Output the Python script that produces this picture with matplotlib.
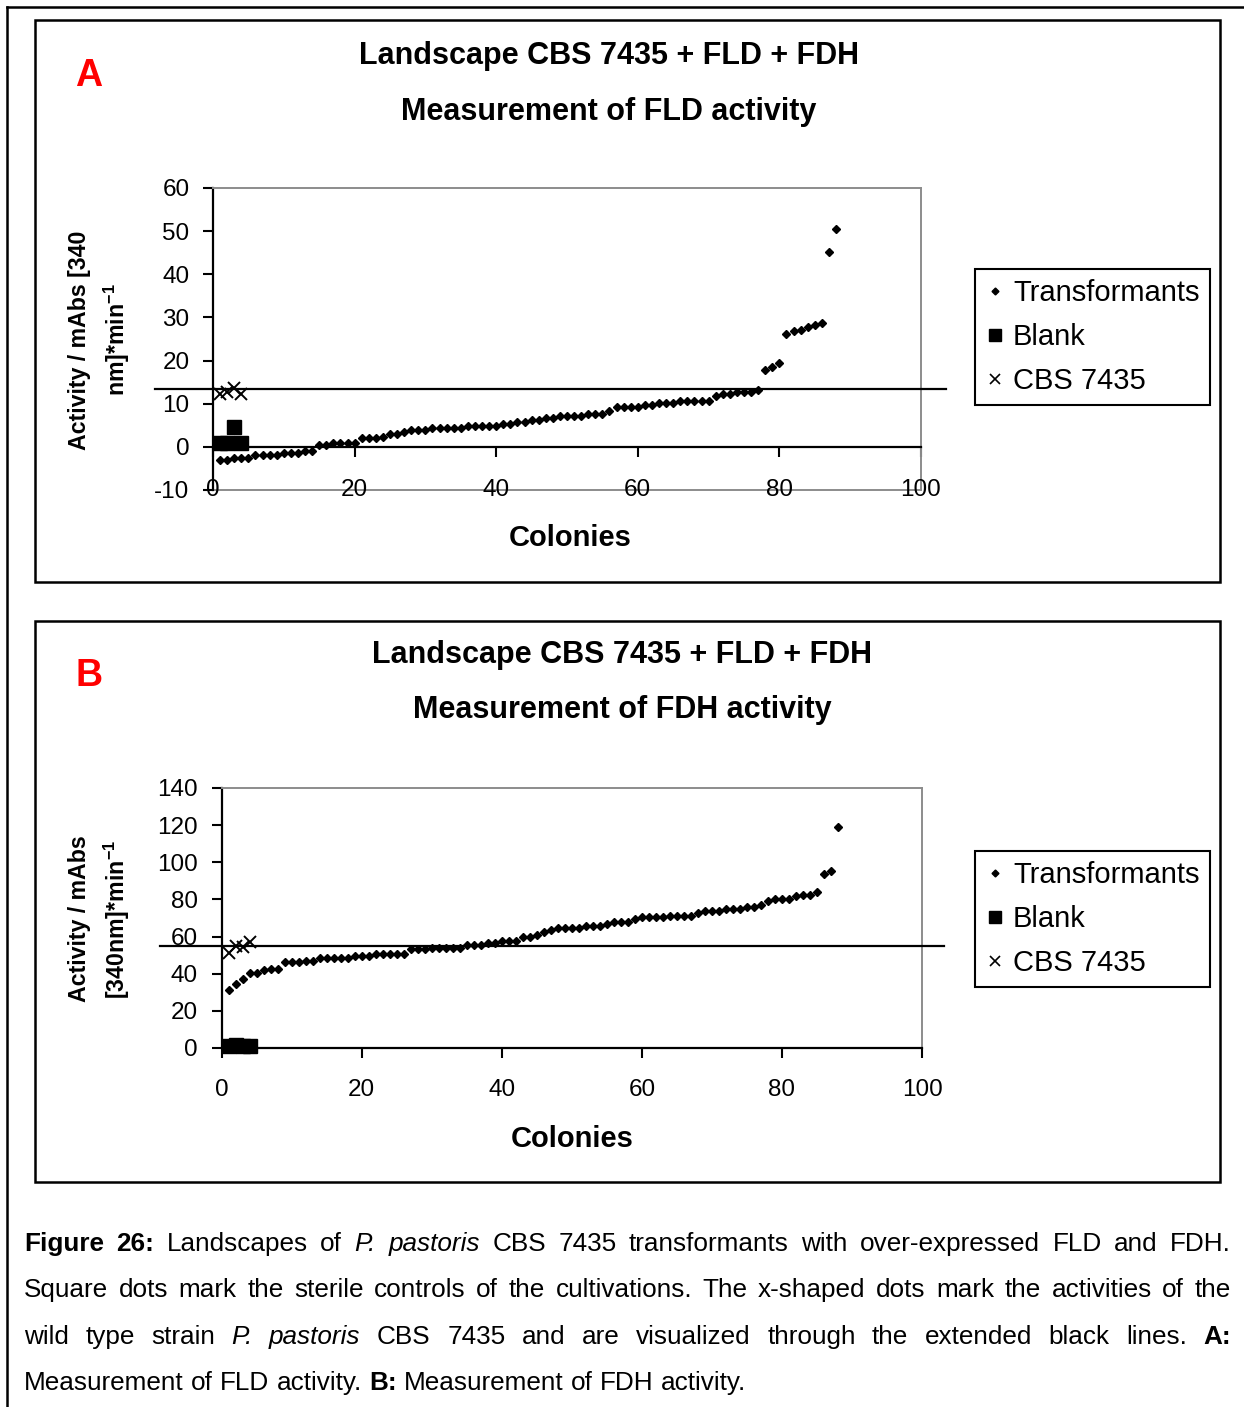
"""
Landscapes of P. pastoris CBS 7435 + FLD + FDH (FLD / FDH activity)
"""

import numpy as np
import matplotlib.pyplot as plt
from matplotlib.lines import Line2D
from matplotlib.patches import Rectangle

plt.rcParams['font.family'] = ['Liberation Sans', 'DejaVu Sans']
plt.rcParams['mathtext.default'] = 'regular'
plt.rcParams['axes.unicode_minus'] = False

# ---- data ----
fld_transformants = [
    -3.1, -3.1, -2.5, -2.5, -2.5, -1.9, -1.9, -1.9, -1.9, -1.5,
    -1.5, -1.5, -1.0, -1.0, 0.5, 0.5, 1.0, 1.0, 1.0, 1.0,
    2.0, 2.0, 2.0, 2.4, 2.9, 2.9, 3.5, 3.9, 3.9, 3.9,
    4.4, 4.4, 4.4, 4.4, 4.4, 4.8, 4.8, 4.8, 4.8, 4.8,
    5.3, 5.3, 5.8, 5.8, 6.3, 6.3, 6.8, 6.8, 7.2, 7.2,
    7.2, 7.2, 7.7, 7.7, 7.7, 8.2, 9.2, 9.2, 9.2, 9.2,
    9.7, 9.7, 10.2, 10.2, 10.2, 10.7, 10.7, 10.7, 10.7, 10.7,
    11.7, 12.2, 12.2, 12.7, 12.7, 12.7, 13.2, 17.9, 18.4, 19.5,
    26.2, 26.8, 27.2, 27.7, 28.2, 28.7, 45.2, 50.5,
]
fld_blank_x = [1, 2, 3, 4]
fld_blank = [1.0, 1.0, 4.5, 1.0]
fld_cbs_x = [1, 2, 3, 4]
fld_cbs = [12.3, 12.8, 13.7, 12.2]
fld_cutoff = 13.5

fdh_transformants = [
    31.5, 34.7, 37.0, 40.5, 40.5, 41.9, 42.6, 42.6, 46.2, 46.2,
    46.2, 47.1, 47.1, 48.2, 48.2, 48.2, 48.2, 48.2, 49.5, 49.5,
    49.5, 50.5, 50.5, 50.5, 50.5, 50.5, 53.1, 53.1, 53.1, 54.1,
    54.1, 54.1, 54.1, 54.1, 55.2, 55.2, 55.2, 56.3, 56.3, 57.4,
    57.4, 57.4, 59.7, 59.7, 61.0, 62.2, 63.3, 64.6, 64.6, 64.6,
    64.6, 65.6, 65.6, 65.6, 67.0, 68.0, 68.0, 68.0, 69.2, 70.3,
    70.3, 70.3, 70.3, 71.2, 71.2, 71.2, 71.2, 72.5, 73.6, 73.6,
    73.6, 74.8, 74.8, 74.8, 75.9, 75.9, 77.0, 79.3, 80.4, 80.4,
    80.4, 81.7, 82.6, 82.6, 83.8, 93.9, 95.1, 119.1,
]
fdh_blank_x = [1, 2, 3, 4]
fdh_blank = [1.0, 1.8, 1.0, 1.0]
fdh_cbs_x = [1, 2.1, 3, 4]
fdh_cbs = [50.9, 55.0, 54.5, 57.2]
fdh_cutoff = 55.0

x_ticks = [0, 20, 40, 60, 80, 100]
fld_yticks = [-10, 0, 10, 20, 30, 40, 50, 60]
fdh_yticks = [0, 20, 40, 60, 80, 100, 120, 140]

title_1 = 'Landscape CBS 7435 + FLD + FDH'
fld_title = 'Measurement of FLD activity'
fdh_title = 'Measurement of FDH activity'
fld_ylabel = 'Activity / mAbs [340\nnm]*min$^{-1}$'
fdh_ylabel = 'Activity / mAbs\n[340nm]*min$^{-1}$'
series_names = ['Transformants', 'Blank', 'CBS 7435']

caption = [
    '**Figure **26: Landscapes of _P. _pastoris CBS 7435 transformants with over-expressed FLD and FDH.',
    'Square dots mark the sterile controls of the cultivations. The x-shaped dots mark the activities of the',
    'wild type strain _P. _pastoris CBS 7435 and are visualized through the extended black lines. **A:',
    'Measurement of FLD activity. **B: Measurement of FDH activity.',
]

# ---- layout helpers (pixel coords of the 1244 x 1407 page) ----
W, H = 1244, 1407
GRAY = '#8c8c8c'
TICK_SIZE = 17.5
fig = plt.figure(figsize=(W / 100, H / 100), dpi=100)


def fx(px):
    return px / W


def fy(py):
    return 1 - py / H


def panel(ax, trans, blank_x, blank, cbs_x, cbs, cutoff, ylim, yticks, line_x):
    x = np.arange(1, len(trans) + 1)
    ax.plot(x, trans, ls='none', marker='D', ms=4, color='k', clip_on=False, zorder=3)
    ax.plot(blank_x, blank, ls='none', marker='s', ms=9.5, color='k', clip_on=False, zorder=3)
    ax.plot(cbs_x, cbs, ls='none', marker='x', ms=8.5, mew=1.4, color='k', clip_on=False, zorder=3)
    ax.plot(line_x, [cutoff, cutoff], color='k', lw=1.6, clip_on=False, zorder=4)

    ax.set_xlim(0, 100)
    ax.set_ylim(*ylim)
    ax.set_xticks(x_ticks)
    ax.set_yticks(yticks)
    for s in ('top', 'right'):
        ax.spines[s].set_color(GRAY)
        ax.spines[s].set_linewidth(1.4)
    ax.spines['left'].set_linewidth(1.6)
    ax.spines['bottom'].set_linewidth(1.6)
    ax.spines['bottom'].set_position(('data', 0))
    ax.tick_params(axis='both', direction='out', length=7, width=1.5,
                   labelsize=TICK_SIZE, top=False, right=False)
    ax.tick_params(axis='y', pad=10)


# panel A
axA = fig.add_axes([fx(213), fy(490), fx(921) - fx(213), (490 - 188) / H])
panel(axA, fld_transformants, fld_blank_x, fld_blank, fld_cbs_x, fld_cbs,
      fld_cutoff, (-10, 60), fld_yticks, [-8.2, 103.5])
axA.axhline(-10, color=GRAY, lw=1.4, clip_on=False)
axA.tick_params(axis='x', labelbottom=False)
for t in x_ticks:
    axA.text(t, -10, str(t), ha='center', va='center', fontsize=TICK_SIZE, clip_on=False)

# panel B
axB = fig.add_axes([fx(221.7), fy(1048), fx(922) - fx(221.7), (1048 - 788) / H])
panel(axB, fdh_transformants, fdh_blank_x, fdh_blank, fdh_cbs_x, fdh_cbs,
      fdh_cutoff, (0, 140), fdh_yticks, [-8.8, 103.2])
axB.tick_params(axis='x', pad=15)

# texts of both panels
for ax, top, letter, sub, ylab, ylab_x, ylab_y, col_x, cx in (
        (axA, 0, 'A', fld_title, fld_ylabel, 100, 340, 570, 609),
        (axB, 600, 'B', fdh_title, fdh_ylabel, 100, 919, 572, 622)):
    fig.text(fx(89), fy(76 + top), letter, color='#ff0000', fontsize=27,
             fontweight='bold', ha='center', va='center')
    fig.text(fx(cx), fy(56 + top - (1 if top else 0)), title_1, fontsize=22,
             fontweight='bold', ha='center', va='center')
    fig.text(fx(cx), fy(112 + top - (2 if top else 0)), sub, fontsize=22,
             fontweight='bold', ha='center', va='center')
    fig.text(fx(col_x), fy(538 + top + (1 if top else 0)), 'Colonies', fontsize=21,
             fontweight='bold', ha='center', va='center')
    fig.text(fx(ylab_x), fy(ylab_y), ylab, rotation=90, fontsize=16.7,
             fontweight='bold', ha='center', va='center', multialignment='center',
             linespacing=1.45)

    handles = [
        Line2D([], [], ls='none', marker='D', ms=3.5, color='k', label=series_names[0]),
        Line2D([], [], ls='none', marker='s', ms=9, color='k', label=series_names[1]),
        Line2D([], [], ls='none', marker='x', ms=6.5, mew=1.2, color='k', label=series_names[2]),
    ]
    leg = fig.legend(handles=handles, loc='upper left',
                     bbox_to_anchor=(fx(975), fy(269 + top - (18 if top else 0))),
                     frameon=True, fancybox=False, edgecolor='k', framealpha=1,
                     fontsize=21, handlelength=0.65, handletextpad=0.3,
                     borderpad=0.35, labelspacing=0.55, borderaxespad=0)
    leg.get_frame().set_linewidth(1.5)

# panel frames and page border
for y0, y1 in ((20, 582), (621, 1182)):
    fig.patches.append(Rectangle((fx(35), fy(y1)), fx(1220) - fx(35), (y1 - y0) / H,
                                 transform=fig.transFigure, fill=False,
                                 edgecolor='k', lw=1.8))
fig.lines.append(Line2D([fx(7), fx(7)], [0, fy(7)], transform=fig.transFigure, color='k', lw=1.8))
fig.lines.append(Line2D([fx(7), 1], [fy(7), fy(7)], transform=fig.transFigure, color='k', lw=1.8))

# caption, justified between x=24 and x=1231
renderer = fig.canvas.get_renderer()
left, right = 24, 1231
cap_size = 18.8
for i, line in enumerate(caption):
    base = 1251 + i * 46.3
    words = []
    for w in line.split(' '):
        weight, style = 'normal', 'normal'
        if w.startswith('**'):
            weight, w = 'bold', w[2:]
        if w.startswith('_'):
            style, w = 'italic', w[1:]
        if w == '':
            continue
        t = fig.text(0, fy(base), w, fontsize=cap_size, fontweight=weight,
                     fontstyle=style, va='baseline', ha='left')
        words.append(t)
    widths = [t.get_window_extent(renderer).width for t in words]
    if i < len(caption) - 1:
        gap = (right - left - sum(widths)) / (len(words) - 1)
    else:
        gap = 0.28 * cap_size * 100 / 72
    xpos = left
    for t, wd in zip(words, widths):
        t.set_x(fx(xpos))
        xpos += wd + gap

fig.savefig('out.png', dpi=100)
